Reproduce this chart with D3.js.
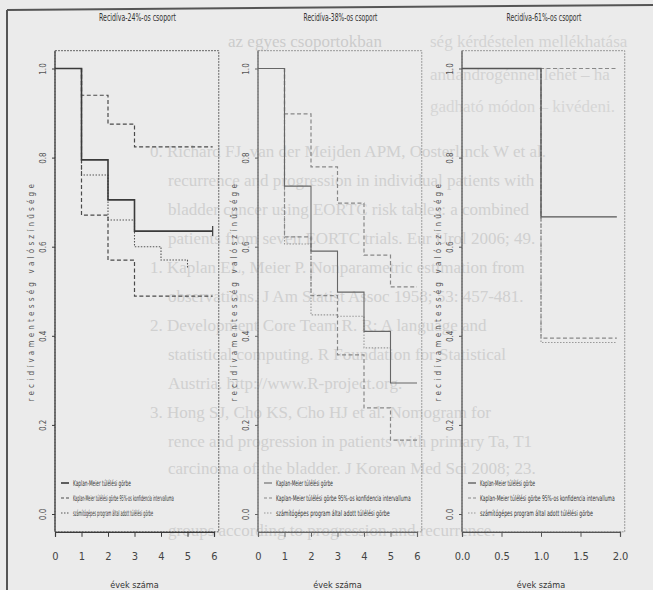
<!DOCTYPE html>
<html>
<head>
<meta charset="utf-8">
<script src="https://cdn.jsdelivr.net/npm/d3@7"></script>
<style>
  html, body { margin: 0; padding: 0; background: #ebebeb; overflow: hidden; }
  svg { display: block; }
  .ghost { font-family: "Liberation Serif", "DejaVu Serif", serif; font-size: 17px; fill: #d3d3d3; }
  .narrow { font-family: "Liberation Sans Narrow", "DejaVu Sans Condensed", "Liberation Sans", sans-serif; fill: #333; }
</style>
</head>
<body>
<div id="chart"></div>
<script>
// --- data ---
const panelTitles = ['Recidíva-24%-os csoport', 'Recidíva-38%-os csoport', 'Recidíva-61%-os csoport'];
const xTitle = 'évek száma';
const yTitle = 'recidívamentesség valószínűsége';
const legendLabels = [
  'Kaplan-Meier túlélési görbe',
  'Kaplan-Meier túlélési görbe 95%-os konfidencia intervalluma',
  'számítógépes program által adott túlélési görbe'
];
const yTicks = [0, 0.2, 0.4, 0.6, 0.8, 1.0];
const yearTicks = [0, 1, 2, 3, 4, 5, 6];
const halfYearTicks = [0, 0.5, 1, 1.5, 2];

// panel 1 (24%)
const t1 = [0, 1, 2, 3, 5.95];
const km1 = [1, 0.795, 0.705, 0.635, 0.635];
const upper1 = [1, 0.94, 0.875, 0.824, 0.824];
const lower1 = [1, 0.671, 0.57, 0.489, 0.489];
const progT1 = [0, 1, 2, 3, 4, 5];
const prog1 = [1, 0.761, 0.66, 0.6, 0.57, 0.55];

// panel 2 (38%)
const t2 = [0, 1, 2, 3, 4, 5, 6];
const km2 = [1, 0.736, 0.59, 0.498, 0.41, 0.294, 0.294];
const upper2 = [1, 0.898, 0.779, 0.698, 0.581, 0.51, 0.51];
const lower2 = [1, 0.622, 0.49, 0.357, 0.238, 0.166, 0.166];
const progT2 = [0, 1, 2, 3, 4, 5];
const prog2 = [1, 0.606, 0.447, 0.444, 0.373, 0.373];

// panel 3 (61%)
const t3 = [0, 1, 1.96];
const km3 = [1, 0.667, 0.667];
const upper3 = [1, 1, 1];
const lower3 = [1, 0.395, 0.395];
const progT3 = [0, 1, 1.96];
const prog3 = [1, 0.385, 0.385];

// page text showing through the scan
const ghostLines = [
  [228, 47, 'az egyes csoportokban', '#cbcbcb'],
  [430, 47, 'ség kérdéstelen mellékhatása', '#d3d3d3'],
  [430, 80, 'antiandrogénnel lehet – ha', '#d3d3d3'],
  [430, 112, 'gadható módon – kivédeni.', '#d6d6d6'],
  [150, 157, '0. Richard FJ, van der Meijden APM, Oosterlinck W et al.', '#d0d0d0'],
  [168, 186, 'recurrence and progression in individual patients with', '#d0d0d0'],
  [168, 215, 'bladder cancer using EORTC risk tables: a combined', '#d0d0d0'],
  [168, 244, 'patients from seven EORTC trials. Eur Urol 2006; 49.', '#d0d0d0'],
  [150, 273, '1. Kaplan EL, Meier P. Nonparametric estimation from', '#d0d0d0'],
  [168, 302, 'observations. J Am Statist Assoc 1958; 53: 457-481.', '#d0d0d0'],
  [150, 331, '2. Development Core Team R. R: A language and', '#d0d0d0'],
  [168, 360, 'statistical computing. R Foundation for Statistical', '#d0d0d0'],
  [168, 389, 'Austria. http://www.R-project.org.', '#d0d0d0'],
  [150, 418, '3. Hong SJ, Cho KS, Cho HJ et al. Nomogram for', '#d0d0d0'],
  [168, 447, 'rence and progression in patients with primary Ta, T1', '#d0d0d0'],
  [168, 474, 'carcinoma of the bladder. J Korean Med Sci 2008; 23.', '#d0d0d0'],
  [168, 536, 'groups according to progression and recurrence.', '#d0d0d0']
];

const W = 653, H = 590;
const svg = d3.select('#chart').append('svg').attr('width', W).attr('height', H);

// squeeze a text horizontally (like the narrow font of the scan) to a given width
function squeeze(sel, x, y, target, size) {
  sel.attr('x', 0).attr('y', 0).attr('font-size', size);
  const len = sel.node().getComputedTextLength();
  const k = len > 0 ? Math.min(1, target / len) : 1;
  sel.attr('transform', `translate(${x}, ${y}) scale(${k.toFixed(3)}, 1)`);
  return sel;
}

// ghost text layer
svg.append('g')
  .selectAll('text')
  .data(ghostLines)
  .enter()
  .append('text')
  .attr('class', 'ghost')
  .attr('x', d => d[0])
  .attr('y', d => d[1])
  .style('fill', d => d[3])
  .text(d => d[2]);

// scan frame
svg.append('line').attr('x1', 7).attr('y1', 10).attr('x2', 653).attr('y2', 5)
  .attr('stroke', '#555').attr('stroke-width', 2);
svg.append('line').attr('x1', 7).attr('y1', 10).attr('x2', 7).attr('y2', 590)
  .attr('stroke', '#555').attr('stroke-width', 2);

const panels = [
  {
    title: panelTitles[0], titleLen: 77, x0: 55, x1: 214, xmax: 6, ticks: yearTicks, fmt: d3.format('d'),
    km: [t1, km1], upper: [t1, upper1], lower: [t1, lower1], prog: [progT1, prog1], censor: [5.95],
    ink: '#3a3a3a', ciInk: '#4a4a4a', progInk: '#555', boxInk: '#666', kmW: 1.6, legLens: [58, 101, 80]
  },
  {
    title: panelTitles[1], titleLen: 74, x0: 258, x1: 417, xmax: 6, ticks: yearTicks, fmt: d3.format('d'),
    km: [t2, km2], upper: [t2, upper2], lower: [t2, lower2], prog: [progT2, prog2], censor: [],
    ink: '#666', ciInk: '#888', progInk: '#999', boxInk: '#999', kmW: 1.1, legLens: [57, 135, 114]
  },
  {
    title: panelTitles[2], titleLen: 75, x0: 462, x1: 620, xmax: 2, ticks: halfYearTicks, fmt: d3.format('.1f'),
    km: [t3, km3], upper: [t3, upper3], lower: [t3, lower3], prog: [progT3, prog3], censor: [],
    ink: '#555', ciInk: '#888', progInk: '#999', boxInk: '#999', kmW: 1.3, legLens: [55, 135, 113]
  }
];

const y = d3.scaleLinear().domain([0, 1]).range([514, 68.5]);

panels.forEach(p => {
  const x = d3.scaleLinear().domain([0, p.xmax]).range([p.x0, p.x1]);
  const g = svg.append('g');
  const boxL = x(0), boxR = x(p.xmax * 1.03), boxT = y(1.04), boxB = y(-0.04);

  // plot box
  g.append('rect')
    .attr('x', boxL).attr('y', boxT)
    .attr('width', boxR - boxL).attr('height', boxB - boxT)
    .attr('fill', 'none').attr('stroke', p.boxInk).attr('stroke-width', 1)
    .attr('stroke-dasharray', '2,1');
  g.append('line')
    .attr('x1', boxL).attr('x2', boxL).attr('y1', boxT).attr('y2', boxB)
    .attr('stroke', p.ink).attr('stroke-width', 1.2);

  // title
  const title = g.append('text')
    .attr('class', 'narrow')
    .attr('text-anchor', 'middle')
    .text(p.title);
  squeeze(title, (p.x0 + p.x1) / 2 + 3, 21, p.titleLen, 10.5);

  // x axis
  const xAxis = g.append('g')
    .attr('transform', `translate(0, ${boxB})`)
    .call(d3.axisBottom(x).tickValues(p.ticks).tickFormat(p.fmt).tickSize(5).tickPadding(15));
  xAxis.select('.domain').attr('stroke', p.ink).attr('stroke-width', 1.2);
  xAxis.selectAll('.tick line').attr('stroke', p.ink);
  xAxis.selectAll('.tick text')
    .attr('class', 'narrow')
    .attr('font-size', 11)
    .style('fill', '#444');

  g.append('text')
    .attr('class', 'narrow')
    .attr('x', (p.x0 + p.x1) / 2)
    .attr('y', 588)
    .attr('text-anchor', 'middle')
    .attr('font-size', 9)
    .text(xTitle);

  // y axis (rotated labels as in R)
  const yAxis = g.append('g')
    .attr('transform', `translate(${boxL}, 0)`)
    .call(d3.axisLeft(y).tickValues(yTicks).tickFormat(d3.format('.1f')).tickSize(3).tickPadding(3));
  yAxis.select('.domain').remove();
  yAxis.selectAll('.tick line').attr('stroke', p.ink);
  yAxis.selectAll('.tick text')
    .attr('class', 'narrow')
    .attr('font-size', 8)
    .style('fill', '#555')
    .attr('text-anchor', 'middle')
    .attr('x', null)
    .attr('dy', null)
    .attr('transform', 'translate(-9, 0) rotate(-90)');

  g.append('text')
    .attr('class', 'narrow')
    .attr('transform', `translate(${boxL - 21}, ${y(0.5)}) rotate(-90)`)
    .attr('text-anchor', 'middle')
    .attr('font-size', 8)
    .attr('letter-spacing', 3.2)
    .style('fill', '#555')
    .text(yTitle);

  // survival step curves
  const step = d3.line()
    .x(d => x(d[0]))
    .y(d => y(d[1]))
    .curve(d3.curveStepAfter);
  const pts = s => s[0].map((t, i) => [t, s[1][i]]);

  const series = [
    { s: p.prog, stroke: p.progInk, dash: '1.5,1.5', w: 1.1 },
    { s: p.lower, stroke: p.ciInk, dash: '4,2.5', w: 1.2 },
    { s: p.upper, stroke: p.ciInk, dash: '4,2.5', w: 1.2 },
    { s: p.km, stroke: p.ink, dash: null, w: p.kmW }
  ];
  g.selectAll('.curve')
    .data(series)
    .enter()
    .append('path')
    .attr('d', d => step(pts(d.s)))
    .attr('fill', 'none')
    .attr('stroke', d => d.stroke)
    .attr('stroke-width', d => d.w)
    .attr('stroke-dasharray', d => d.dash);

  // censor marks
  g.selectAll('.censor')
    .data(p.censor)
    .enter()
    .append('line')
    .attr('x1', d => x(d)).attr('x2', d => x(d))
    .attr('y1', d => y(p.km[1][p.km[1].length - 1]) - 5)
    .attr('y2', d => y(p.km[1][p.km[1].length - 1]) + 5)
    .attr('stroke', p.ink).attr('stroke-width', 1.2);

  // legend
  const legStyles = [
    { stroke: p.ink, dash: null, w: p.kmW },
    { stroke: p.ciInk, dash: '3,2', w: 1.2 },
    { stroke: p.progInk, dash: '1.5,1.5', w: 1.1 }
  ];
  const leg = g.append('g');
  legendLabels.forEach((lab, i) => {
    const ly = 483 + i * 15;
    leg.append('line')
      .attr('x1', boxL + 6).attr('x2', boxL + 14)
      .attr('y1', ly).attr('y2', ly)
      .attr('stroke', legStyles[i].stroke)
      .attr('stroke-width', legStyles[i].w)
      .attr('stroke-dasharray', legStyles[i].dash);
    const lt = leg.append('text')
      .attr('class', 'narrow')
      .text(lab);
    squeeze(lt, boxL + 18, ly + 3, p.legLens[i], 8);
  });
});
</script>
</body>
</html>
